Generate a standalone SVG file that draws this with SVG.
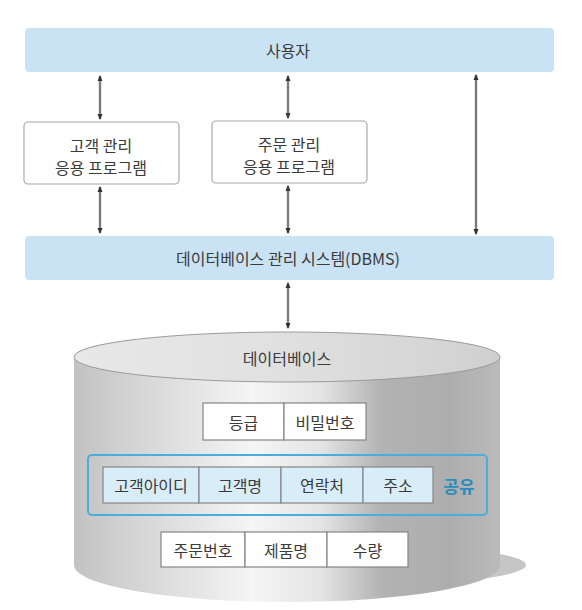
<svg xmlns="http://www.w3.org/2000/svg" width="582" height="610" viewBox="0 0 582 610">
<style>
text{font-family:"Noto Sans CJK KR","Noto Sans",sans-serif;font-size:16px;fill:#3a3a3a;text-anchor:middle;dominant-baseline:central}
.bar{fill:#c9e3f4}
.app{fill:#fff;stroke:#a8a8a8;stroke-width:1.2}
.cell{fill:#fff;stroke:#858585;stroke-width:1.2}
.bcell{fill:#d9edf9;stroke:#858585;stroke-width:1.2}
.conn{stroke:#7c7c7c;stroke-width:2.4;fill:none;marker-start:url(#ah);marker-end:url(#ah)}
</style>
<defs>
<marker id="ah" viewBox="0 0 6 6" refX="5" refY="3" markerWidth="6" markerHeight="6" markerUnits="userSpaceOnUse" orient="auto-start-reverse">
<path d="M0,0.5 L6,3 L0,5.5 Z" fill="#333"/>
</marker>
<linearGradient id="body" x1="0" y1="0" x2="1" y2="0">
<stop offset="0" stop-color="#c2c2c2"/>
<stop offset="0.1" stop-color="#cfcfcf"/>
<stop offset="0.42" stop-color="#f5f5f5"/>
<stop offset="0.58" stop-color="#e4e4e4"/>
<stop offset="0.72" stop-color="#b3b3b3"/>
<stop offset="0.88" stop-color="#adadad"/>
<stop offset="1" stop-color="#bababa"/>
</linearGradient>
<linearGradient id="top" x1="0" y1="0" x2="1" y2="0">
<stop offset="0" stop-color="#e8e8e8"/>
<stop offset="0.5" stop-color="#e0e0e0"/>
<stop offset="1" stop-color="#d0d0d0"/>
</linearGradient>
</defs>

<g id="user">
<rect class="bar" x="25" y="28" width="529" height="44" rx="4"/>
<text x="288" y="50">사용자</text>
</g>

<g id="app-customer">
<rect class="app" x="24" y="122" width="155" height="62" rx="4"/>
<text x="101" y="145">고객 관리</text>
<text x="101" y="167">응용 프로그램</text>
</g>

<g id="app-order">
<rect class="app" x="212" y="121" width="155" height="62" rx="4"/>
<text x="289" y="144">주문 관리</text>
<text x="289" y="166">응용 프로그램</text>
</g>

<g id="dbms">
<rect class="bar" x="25" y="236" width="529" height="44" rx="4"/>
<text x="288" y="258">데이터베이스 관리 시스템(DBMS)</text>
</g>

<g id="database">
<ellipse cx="330" cy="565" rx="196" ry="22" fill="#c6c6c6"/>
<path d="M74,357 L74,565 A213,37 0 0 0 500,565 L500,357 Z" fill="url(#body)"/>
<ellipse cx="287" cy="357" rx="213" ry="25" fill="url(#top)" stroke="#9a9a9a" stroke-width="1"/>
<text x="287" y="358">데이터베이스</text>
</g>

<g id="row-member">
<rect class="cell" x="203" y="403" width="81" height="37"/>
<rect class="cell" x="284" y="403" width="82" height="37"/>
<text x="243.5" y="421.5">등급</text>
<text x="325" y="421.5">비밀번호</text>
</g>

<g id="shared">
<rect x="88" y="455" width="399" height="60" rx="4" fill="none" stroke="#4aaedd" stroke-width="2"/>
<rect class="bcell" x="103" y="467" width="96" height="36"/>
<rect class="bcell" x="199" y="467" width="82" height="36"/>
<rect class="bcell" x="281" y="467" width="82" height="36"/>
<rect class="bcell" x="363" y="467" width="70" height="36"/>
<text x="151" y="485">고객아이디</text>
<text x="240" y="485">고객명</text>
<text x="322" y="485">연락처</text>
<text x="398" y="485">주소</text>
<text x="459" y="485" style="fill:#2a8cbf;font-weight:bold;font-size:17px">공유</text>
</g>

<g id="row-order">
<rect class="cell" x="161" y="532" width="84" height="35"/>
<rect class="cell" x="245" y="532" width="82" height="35"/>
<rect class="cell" x="327" y="532" width="81" height="35"/>
<text x="203" y="549.5">주문번호</text>
<text x="286" y="549.5">제품명</text>
<text x="367.5" y="549.5">수량</text>
</g>

<g id="connectors">
<line class="conn" x1="100" y1="76" x2="100" y2="119"/>
<line class="conn" x1="288" y1="76" x2="288" y2="118"/>
<line class="conn" x1="476" y1="75" x2="476" y2="234"/>
<line class="conn" x1="100" y1="187" x2="100" y2="233"/>
<line class="conn" x1="288" y1="186" x2="288" y2="233"/>
<line class="conn" x1="288" y1="283" x2="288" y2="328"/>
</g>
</svg>
